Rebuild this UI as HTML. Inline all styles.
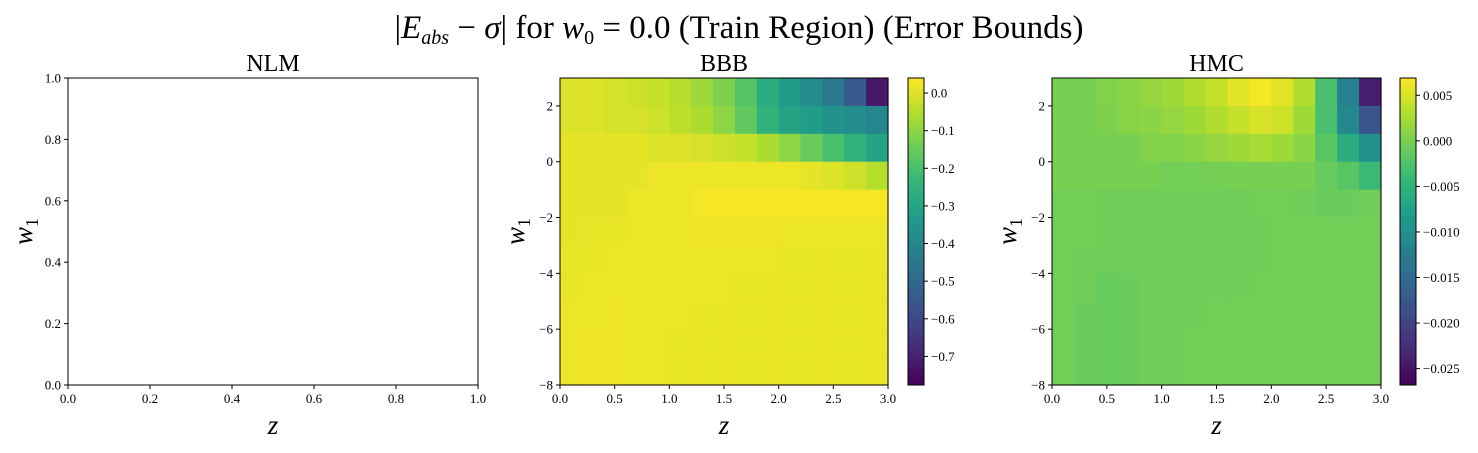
<!DOCTYPE html>
<html><head><meta charset="utf-8">
<style>
body{margin:0;background:#fff;}
svg text{font-family:"Liberation Serif",serif;fill:#000;}
</style></head>
<body>
<svg id="fig" width="1478" height="448" xmlns="http://www.w3.org/2000/svg">
<text x="739" y="38" font-size="33" text-anchor="middle">|<tspan font-style="italic">E</tspan><tspan font-size="20" font-style="italic" dy="6">abs</tspan><tspan dy="-6"> − </tspan><tspan font-style="italic">σ</tspan>| for <tspan font-style="italic">w</tspan><tspan font-size="20" dy="6">0</tspan><tspan dy="-6"> = 0.0 (Train Region) (Error Bounds)</tspan></text>
</svg>
<script>
const zCats=[0.1,0.3,0.5,0.7,0.9,1.1,1.3,1.5,1.7,1.9,2.1,2.3,2.5,2.7,2.9];
const w1Cats=[2.5,1.5,0.5,-0.5,-1.5,-2.5,-3.5,-4.5,-5.5,-6.5,-7.5];
const bbbValues=[
[0.0,0.0,-0.01,-0.02,-0.03,-0.05,-0.08,-0.12,-0.18,-0.27,-0.33,-0.38,-0.45,-0.55,-0.72],
[0.0,0.0,-0.01,-0.01,-0.02,-0.04,-0.06,-0.1,-0.16,-0.25,-0.3,-0.33,-0.36,-0.38,-0.4],
[0.01,0.01,0.01,0.01,0.0,0.0,-0.01,-0.02,-0.03,-0.06,-0.1,-0.15,-0.2,-0.25,-0.3],
[0.01,0.01,0.01,0.01,0.02,0.02,0.02,0.02,0.02,0.02,0.02,0.01,0.0,-0.02,-0.05],
[0.01,0.01,0.01,0.02,0.02,0.02,0.03,0.03,0.03,0.03,0.03,0.03,0.03,0.03,0.03],
[0.01,0.015,0.015,0.02,0.02,0.02,0.025,0.025,0.025,0.025,0.02,0.02,0.02,0.02,0.02],
[0.015,0.015,0.02,0.02,0.02,0.02,0.02,0.02,0.02,0.02,0.015,0.015,0.015,0.015,0.015],
[0.015,0.02,0.02,0.02,0.02,0.02,0.02,0.02,0.015,0.015,0.015,0.015,0.015,0.015,0.015],
[0.02,0.02,0.025,0.02,0.02,0.02,0.015,0.015,0.015,0.015,0.015,0.015,0.015,0.015,0.015],
[0.02,0.025,0.025,0.02,0.02,0.015,0.015,0.015,0.015,0.015,0.015,0.015,0.015,0.015,0.015],
[0.02,0.025,0.025,0.02,0.02,0.015,0.015,0.015,0.015,0.015,0.015,0.015,0.015,0.015,0.015]];
const hmcValues=[
[0,0,0.0005,0.001,0.0015,0.002,0.003,0.004,0.0055,0.0065,0.0055,0.003,-0.003,-0.012,-0.024],
[0,0,0.0003,0.0008,0.001,0.0015,0.002,0.003,0.004,0.005,0.0045,0.002,-0.003,-0.011,-0.018],
[0,0,0,0,0.0005,0.0005,0.001,0.0015,0.002,0.0025,0.002,0.001,-0.002,-0.006,-0.01],
[0,0,0,0,0,-0.0003,-0.0003,-0.0002,0,0,0,0,-0.001,-0.002,-0.004],
[-0.0003,-0.0003,-0.0005,-0.0005,-0.0005,-0.0005,-0.0005,-0.0005,-0.0005,-0.0003,-0.0003,-0.0005,-0.0008,-0.0008,-0.0005],
[-0.0003,-0.0003,-0.0005,-0.0005,-0.0005,-0.0005,-0.0005,-0.0005,-0.0005,-0.0005,-0.0003,-0.0003,-0.0003,-0.0003,-0.0003],
[-0.0003,-0.0005,-0.0005,-0.0005,-0.0005,-0.0005,-0.0005,-0.0005,-0.0005,-0.0005,-0.0003,-0.0003,-0.0003,-0.0003,-0.0003],
[-0.0003,-0.0005,-0.001,-0.0008,-0.0005,-0.0005,-0.0005,-0.0005,-0.0005,-0.0003,-0.0003,-0.0003,-0.0003,-0.0003,-0.0003],
[-0.0003,-0.0008,-0.001,-0.0008,-0.0005,-0.0005,-0.0005,-0.0003,-0.0003,-0.0003,-0.0003,-0.0003,-0.0003,-0.0003,-0.0003],
[-0.0003,-0.0008,-0.001,-0.0008,-0.0005,-0.0005,-0.0003,-0.0003,-0.0003,-0.0003,-0.0003,-0.0003,-0.0003,-0.0003,-0.0003],
[-0.0003,-0.0008,-0.001,-0.0008,-0.0005,-0.0005,-0.0003,-0.0003,-0.0003,-0.0003,-0.0003,-0.0003,-0.0003,-0.0003,-0.0003]];
const nlmTicks=["0.0","0.2","0.4","0.6","0.8","1.0"];
const zTicks=["0.0","0.5","1.0","1.5","2.0","2.5","3.0"];
const w1Ticks=["−8","−6","−4","−2","0","2"];
const bbbCbTicks=["0.0","−0.1","−0.2","−0.3","−0.4","−0.5","−0.6","−0.7"];
const hmcCbTicks=["0.005","0.000","−0.005","−0.010","−0.015","−0.020","−0.025"];

const NS="http://www.w3.org/2000/svg";
const fig=document.getElementById('fig');
function mk(tag,attrs,parent){const e=document.createElementNS(NS,tag);for(const k in attrs)e.setAttribute(k,attrs[k]);(parent||fig).appendChild(e);return e;}
const VIR=[[68,1,84],[72,40,120],[62,74,137],[49,104,142],[38,130,142],[31,158,137],[53,183,121],[109,205,89],[180,222,44],[253,231,37]];
function viridis(t){t=Math.max(0,Math.min(1,t));const s=t*(VIR.length-1);const i=Math.min(VIR.length-2,Math.floor(s));const f=s-i;const c=VIR[i].map((v,k)=>Math.round(v+(VIR[i+1][k]-v)*f));return `rgb(${c[0]},${c[1]},${c[2]})`;}
const TOP=78,BOT=385;

function axesFrame(x0,x1,xmin,xmax,ymin,ymax,xt,yt,name,title){
  const sx=v=>x0+(v-xmin)/(xmax-xmin)*(x1-x0);
  const sy=v=>BOT-(v-ymin)/(ymax-ymin)*(BOT-TOP);
  const g=mk('g',{});
  
  
  xt.forEach(l=>{const v=parseFloat(l.replace('−','-'));const x=sx(v);
    mk('line',{x1:x,x2:x,y1:BOT,y2:BOT+4,stroke:'#000','stroke-width':1},g);
    const t=mk('text',{x:x,y:BOT+18,'font-size':13,'text-anchor':'middle'},g);t.textContent=l;
    
    });
  yt.forEach(l=>{const v=parseFloat(l.replace('−','-'));const y=sy(v);
    mk('line',{x1:x0-4,x2:x0,y1:y,y2:y,stroke:'#000','stroke-width':1},g);
    const t=mk('text',{x:x0-7,y:y+4.5,'font-size':13,'text-anchor':'end'},g);t.textContent=l;
    
    });
  const tt=mk('text',{x:(x0+x1)/2,y:71,'font-size':24,'text-anchor':'middle'},g);tt.textContent=title;
  
  
  const xl=mk('text',{x:(x0+x1)/2,y:434,'font-size':27,'font-style':'italic','text-anchor':'middle'},g);xl.textContent='z';
  
  
  const yl=mk('text',{x:x0-36,y:(TOP+BOT)/2,'font-size':27,'font-style':'italic','text-anchor':'middle',transform:`rotate(-90 ${x0-36} ${(TOP+BOT)/2})`},g);
  yl.innerHTML='w<tspan font-size="18" font-style="normal" dy="6">1</tspan>';
  
  
  return {g,sx,sy};
}
function heat(x0,x1,vals,vmin,vmax,name){
  const a=axesFrame(x0,x1,0,3,-8,3,zTicks,w1Ticks,name,name.toUpperCase());
  const cw=(x1-x0)/zCats.length, ch=(BOT-TOP)/w1Cats.length;
  w1Cats.forEach((w,r)=>zCats.forEach((z,c)=>{
    const cell=mk('rect',{x:a.sx(z)-cw/2,y:a.sy(w)-ch/2,width:cw+0.6,height:ch+0.6,fill:viridis((vals[r][c]-vmin)/(vmax-vmin))},a.g);
    
    
  }));
  mk('rect',{x:x0,y:TOP,width:x1-x0,height:BOT-TOP,fill:'none',stroke:'#000','stroke-width':1},a.g);
}
function colorbar(cx,vmin,vmax,ticks,name){
  const g=mk('g',{});
  
  
  const w=16,n=60,h=(BOT-TOP)/n;
  for(let i=0;i<n;i++){mk('rect',{x:cx,y:TOP+i*h,width:w,height:h+0.5,fill:viridis(1-(i+0.5)/n)},g);}
  mk('rect',{x:cx,y:TOP,width:w,height:BOT-TOP,fill:'none',stroke:'#000','stroke-width':1},g);
  ticks.forEach(l=>{const v=parseFloat(l.replace('−','-'));const y=BOT-(v-vmin)/(vmax-vmin)*(BOT-TOP);
    mk('line',{x1:cx+w,x2:cx+w+4,y1:y,y2:y,stroke:'#000'},g);
    const t=mk('text',{x:cx+w+7,y:y+4.5,'font-size':13},g);t.textContent=l;
    
    });
}
const nl=axesFrame(68,478,0,1,0,1,nlmTicks,nlmTicks,'nlm','NLM');
mk('rect',{x:68,y:TOP,width:410,height:BOT-TOP,fill:'none',stroke:'#000','stroke-width':1},nl.g);
heat(560,888,bbbValues,-0.776,0.04,'bbb');
colorbar(908,-0.776,0.04,bbbCbTicks,'bbb');
heat(1052,1381,hmcValues,-0.0268,0.0069,'hmc');
colorbar(1400,-0.0268,0.0069,hmcCbTicks,'hmc');
</script>
</body></html>
